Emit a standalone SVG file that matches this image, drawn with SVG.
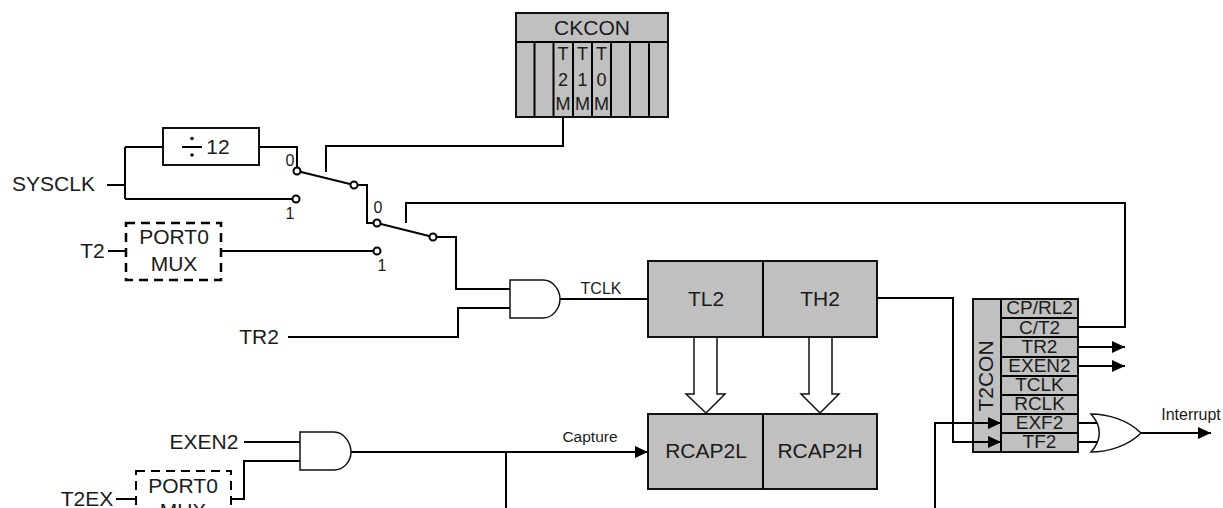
<svg xmlns="http://www.w3.org/2000/svg" width="1223" height="508" viewBox="0 0 1223 508">
<defs>
<marker id="arr" markerUnits="userSpaceOnUse" markerWidth="14" markerHeight="12" refX="13" refY="6" orient="auto"><path d="M0,0 L13,6 L0,12 Z" fill="#000"/></marker>
</defs>
<style>
text{font-family:"Liberation Sans",Arial,sans-serif;fill:#1a1a1a;text-anchor:middle}
.w{fill:none;stroke:#000;stroke-width:2}
.box{fill:#c0c0c0;stroke:#111;stroke-width:2}
.gate{fill:#fff;stroke:#111;stroke-width:1.5}
.pin{fill:#fff;stroke:#000;stroke-width:2}
.dash{fill:#fff;stroke:#000;stroke-width:2.5;stroke-dasharray:9 6}
.hollow{fill:#fff;stroke:#111;stroke-width:1.5}
.t21{font-size:21px}
.t19{font-size:19px}
.t16{font-size:16px}
.t15{font-size:15.500px}
.bit{font-size:18px}
</style>
<rect width="1223" height="508" fill="#fff"/>
<g id="t2con">
<rect class="box" x="973" y="299" width="105" height="153"/>
<path class="w" d="M1001,299V452M1001,318H1078M1001,337H1078M1001,357H1078M1001,376H1078M1001,395H1078M1001,414H1078M1001,433H1078"/>
<text class="t21" transform="translate(993,376) rotate(-90)">T2CON</text>
<text class="t19" x="1039.500" y="314">CP/RL2</text>
<text class="t19" x="1039.500" y="334">C/T2</text>
<text class="t19" x="1039.500" y="353">TR2</text>
<text class="t19" x="1039.500" y="372">EXEN2</text>
<text class="t19" x="1039.500" y="391">TCLK</text>
<text class="t19" x="1039.500" y="410">RCLK</text>
<text class="t19" x="1039.500" y="429">EXF2</text>
<text class="t19" x="1039.500" y="448">TF2</text>
</g>
<g id="connectors">
<path class="w" d="M107,185H125M125,147V199M125,147H163M259,147H297V168M125,199H293"/>
<path class="w" d="M563,117V146H326V172"/>
<path class="w" d="M297,171L354,185H367V223H377L433,237H456V289H510"/>
<path class="w" d="M406,223V203H1125V327H1078"/>
<path class="w" d="M108,251H126M221,251H373"/>
<path class="w" d="M288,337H458V308H510"/>
<path class="w" d="M560,299H648"/>
<path class="w" d="M877,298H953V442H1001" marker-end="url(#arr)"/>
<path class="w" d="M935,508V423H1001" marker-end="url(#arr)"/>
<path class="w" d="M1078,347H1125" marker-end="url(#arr)"/>
<path class="w" d="M1078,366H1125" marker-end="url(#arr)"/>
<path class="w" d="M1078,423H1097M1078,442H1097"/>
<path class="w" d="M1141,433H1211" marker-end="url(#arr)"/>
<path class="w" d="M244,442H300M116,499H136M231,499H244V461H300"/>
<path class="w" d="M351,452H648" marker-end="url(#arr)"/>
<path class="w" d="M506,452V508"/>
<polygon class="hollow" points="694,337 717,337 717,394 725,394 706,413 686,394 694,394"/>
<polygon class="hollow" points="809,337 832,337 832,394 839,394 820,413 801,394 809,394"/>
</g>
<g id="ckcon">
<rect class="box" x="516" y="13" width="152" height="104"/>
<path class="w" d="M516,42H668M534.500,42V117M553.500,42V117M573,42V117M592,42V117M611,42V117M630,42V117M649,42V117"/>
<text class="t21" x="592" y="35">CKCON</text>
<text class="bit" x="563" y="60">T</text><text class="bit" x="563" y="86">2</text><text class="bit" x="563" y="110">M</text>
<text class="bit" x="582.500" y="60">T</text><text class="bit" x="582.500" y="86">1</text><text class="bit" x="582.500" y="110">M</text>
<text class="bit" x="601.500" y="60">T</text><text class="bit" x="601.500" y="86">0</text><text class="bit" x="601.500" y="110">M</text>
</g>
<g id="div12">
<rect x="163" y="128" width="96" height="37" fill="#fff" stroke="#111" stroke-width="2"/>
<path class="w" d="M182,147H202"/>
<circle cx="192" cy="138.500" r="1.800" fill="#111"/><circle cx="192" cy="155" r="1.800" fill="#111"/>
<text class="t21" x="218" y="154">12</text>
</g>
<g id="sysclk"><text class="t21" x="53.500" y="191">SYSCLK</text></g>
<g id="t2"><text class="t21" x="92.500" y="258">T2</text></g>
<g id="mux1">
<rect class="dash" x="126" y="223" width="95" height="57"/>
<text class="t21" x="174" y="244">PORT0</text>
<text class="t21" x="174" y="271">MUX</text>
</g>
<g id="switch1">
<circle class="pin" cx="297" cy="171" r="3.500"/><circle class="pin" cx="296" cy="199" r="3.500"/><circle class="pin" cx="354" cy="185" r="3.500"/>
<text class="t16" x="290" y="166">0</text><text class="t16" x="290" y="219">1</text>
</g>
<g id="switch2">
<circle class="pin" cx="377" cy="223" r="3.500"/><circle class="pin" cx="377" cy="251" r="3.500"/><circle class="pin" cx="433" cy="237" r="3.500"/>
<text class="t16" x="378" y="213">0</text><text class="t16" x="382" y="271">1</text>
</g>
<g id="tr2"><text class="t21" x="259" y="344">TR2</text></g>
<g id="and1">
<path class="gate" d="M510,280H543C553,280 560,290 560,299C560,308 553,318 543,318H510Z"/>
</g>
<g id="tclk"><text class="t16" x="601" y="294">TCLK</text></g>
<g id="timer">
<rect class="box" x="648" y="261" width="229" height="76"/>
<path class="w" d="M763,261V337"/>
<text class="t21" x="706" y="306">TL2</text><text class="t21" x="820" y="306">TH2</text>
</g>
<g id="rcap">
<rect class="box" x="648" y="414" width="229" height="75"/>
<path class="w" d="M763,414V489"/>
<text class="t21" x="706" y="458">RCAP2L</text><text class="t21" x="820" y="458">RCAP2H</text>
</g>
<g id="capture"><text class="t15" x="590" y="442">Capture</text></g>
<g id="or1">
<path class="gate" d="M1091,414C1108,414 1128,420 1141,433C1128,446 1108,452 1091,452C1102,440 1102,426 1091,414Z"/>
</g>
<g id="interrupt"><text class="t16" x="1191" y="420">Interrupt</text></g>
<g id="exen2"><text class="t21" x="204" y="449">EXEN2</text></g>
<g id="and2">
<path class="gate" d="M300,432H334C344,432 351,443 351,452C351,461 344,470 334,470H300Z"/>
</g>
<g id="t2ex"><text class="t21" x="87" y="506">T2EX</text></g>
<g id="mux2">
<rect class="dash" x="136" y="471" width="95" height="57" style="stroke-width:2"/>
<text class="t21" x="183" y="493">PORT0</text>
<text class="t21" x="183" y="518">MUX</text>
</g>
</svg>
